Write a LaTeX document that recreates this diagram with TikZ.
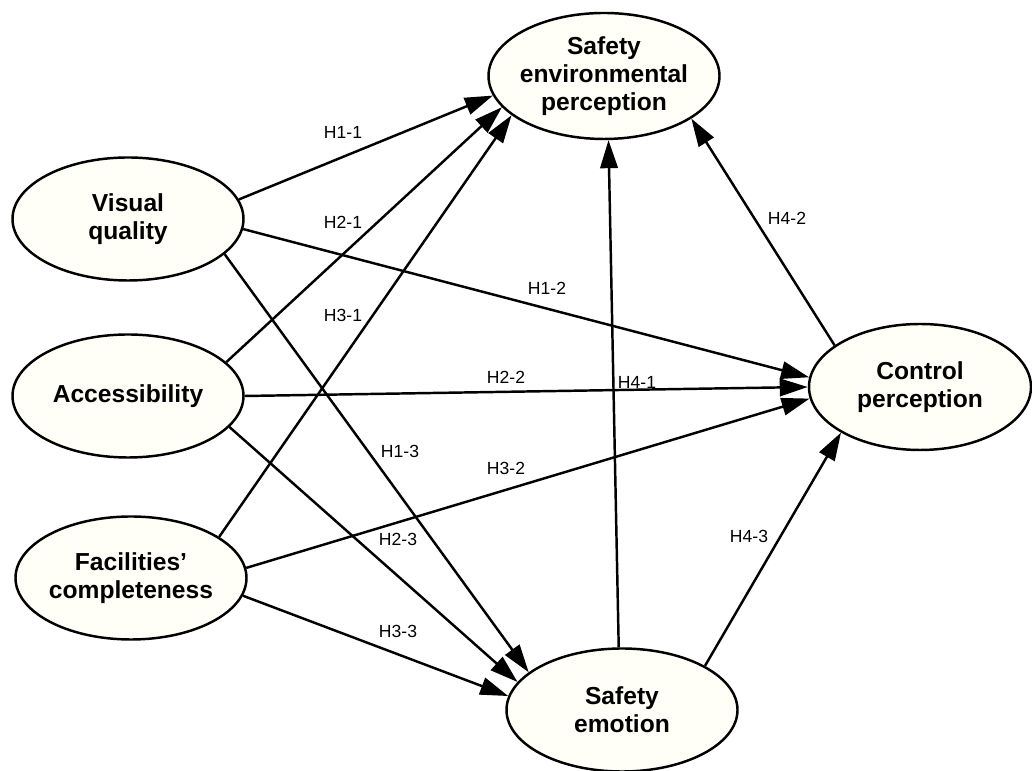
\documentclass[tikz,border=0pt]{standalone}
\usepackage{fontspec}
\setsansfont{Liberation Sans}
\usepackage{xcolor}
\usepackage{tikz}
\usetikzlibrary{shapes,arrows.meta,positioning}
\definecolor{latentfill}{RGB}{255,255,247}

\begin{document}
\begin{tikzpicture}[
    latent/.style={ellipse, draw, fill=latentfill, line width=1.4pt, minimum width=4.62cm, minimum height=2.46cm, inner sep=0pt, inner xsep=-0.4cm, align=center, font=\sffamily\bfseries\fontsize{14}{16}\selectfont},
    hyp/.style={font=\sffamily\fontsize{10}{12}\selectfont},
    line/.style={draw, line width=1.4pt, -{Triangle[length=5.6mm, width=3.5mm]}}
]
    \useasboundingbox (0,0) rectangle (20.64,15.42);

    % Exogenous constructs
    \node [latent] (vq) at (2.56,11.04) {Visual\\quality};
    \node [latent] (acc) at (2.56,7.50) {Accessibility};
    \node [latent] (fac) at (2.62,3.86) {Facilities'\\completeness};

    % Mediators and outcome
    \node [latent, minimum height=2.52cm] (sep) at (12.08,13.90) {Safety\\environmental\\perception};
    \node [latent, minimum width=4.44cm, minimum height=2.52cm] (cp) at (18.40,7.68) {Control\\perception};
    \node [latent] (se) at (12.44,1.22) {Safety\\emotion};

    % H1: visual quality
    \path [line] (vq.10) -- (sep.190);
    \path [line] (vq.-5) -- (cp.175);
    \path [line] (vq.-20) -- (se.158);

    % H2: accessibility
    \path [line] (acc.19) -- (sep.197);
    \path [line] (acc.0) -- (cp.180);
    \path [line] (acc.-17) -- (se.165);

    % H3: facilities
    \path [line] (fac.25) -- (sep.203);
    \path [line] (fac.5) -- (cp.186);
    \path [line] (fac.-9) -- (se.173);

    % H4: emotion and control
    \path [line] (se.93) -- (sep.-86);
    \path [line] (cp.154) -- (sep.-26);
    \path [line] (se.28) -- (cp.210);

    % Hypothesis labels
    \node [hyp] (h11) at (6.86,12.78) {H1-1};
    \node [hyp] (h21) at (6.86,10.98) {H2-1};
    \node [hyp] (h31) at (6.86,9.12) {H3-1};
    \node [hyp] (h12) at (10.94,9.66) {H1-2};
    \node [hyp] (h22) at (10.12,7.88) {H2-2};
    \node [hyp] (h41) at (12.74,7.78) {H4-1};
    \node [hyp] (h13) at (8.00,6.40) {H1-3};
    \node [hyp] (h32) at (10.12,6.06) {H3-2};
    \node [hyp] (h23) at (7.96,4.64) {H2-3};
    \node [hyp] (h33) at (7.96,2.80) {H3-3};
    \node [hyp] (h42) at (15.74,11.06) {H4-2};
    \node [hyp] (h43) at (14.98,4.70) {H4-3};

\end{tikzpicture}
\end{document}
